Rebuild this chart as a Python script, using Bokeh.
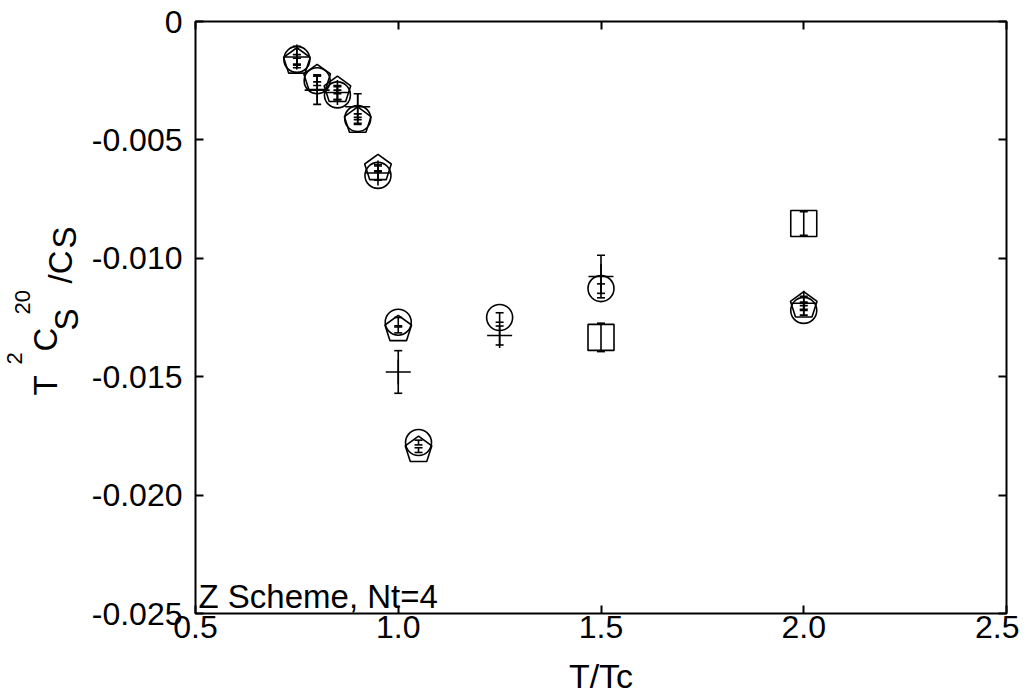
import numpy as np
from bokeh.plotting import figure
from bokeh.layouts import row
from bokeh.models import (ColumnDataSource, Whisker, TeeHead, FixedTicker, LinearAxis,
                          Label, Range1d, CustomJSTickFormatter)
from bokeh.core.properties import value, field
from bokeh.embed import file_html
from bokeh.resources import INLINE

# ---- data ----
T_circle = [0.75, 0.80, 0.85, 0.90, 0.95, 1.00, 1.05, 1.25, 1.50, 2.00]
C_circle = [-0.0016, -0.0025, -0.0031, -0.0041, -0.0065, -0.0127, -0.01778, -0.0125, -0.01128, -0.0122]
E_circle = [0.0002, 0.0002, 0.0002, 0.0002, 0.0002, 0.0002, 0.0001, 0.0002, 0.0002, 0.0002]

T_pent = [0.75, 0.80, 0.85, 0.90, 0.95, 1.00, 1.05, 2.00]
C_pent = [-0.0017, -0.0024, -0.0029, -0.0042, -0.0062, -0.0130, -0.0181, -0.0120]
E_pent = [0.00015, 0.00015, 0.00015, 0.00015, 0.00015, 0.00015, 0.0001, 0.00015]

T_plus = [0.75, 0.80, 0.85, 0.90, 0.95, 1.00, 1.25, 1.50, 2.00]
C_plus = [-0.0015, -0.0029, -0.0030, -0.0036, -0.0064, -0.0148, -0.01326, -0.01077, -0.0119]
E_plus = [0.00045, 0.0006, 0.0003, 0.00055, 0.0003, 0.0009, 0.0004, 0.0009, 0.0003]

T_square = [1.50, 2.00]
C_square = [-0.01334, -0.00853]
E_square = [0.0006, 0.0005]

x_ticks = [0.5, 1.0, 1.5, 2.0, 2.5]
y_ticks = [0.0, -0.005, -0.010, -0.015, -0.020, -0.025]

FONT = "Liberation Sans"
TICK_FS = "32px"
LABEL_W = 88
TOP, BOTTOM = 21, 85

# ---- main plot ----
p = figure(width=1019 - LABEL_W, height=698, x_range=Range1d(0.5, 2.5), y_range=Range1d(-0.025, 0.0),
           output_backend="svg", toolbar_location=None,
           min_border_left=195 - LABEL_W, min_border_top=TOP, min_border_right=13,
           min_border_bottom=BOTTOM)
p.grid.visible = False
p.outline_line_color = "black"
p.outline_line_width = 2
p.background_fill_color = "white"
p.border_fill_color = "white"


def style_axis(ax, ticks, code):
    ax.ticker = FixedTicker(ticks=ticks)
    ax.formatter = CustomJSTickFormatter(code=code)
    ax.major_tick_in = 8
    ax.major_tick_out = 0
    ax.major_tick_line_color = "black"
    ax.major_tick_line_width = 2
    ax.minor_tick_line_color = None
    ax.axis_line_color = None
    ax.major_label_text_font = FONT
    ax.major_label_text_font_size = TICK_FS
    ax.major_label_text_color = "black"


xcode = "return tick.toFixed(1);"
ycode = "return Math.abs(tick) < 1e-12 ? '0' : tick.toFixed(3);"
blank = "return '';"
style_axis(p.xaxis[0], x_ticks, xcode)
style_axis(p.yaxis[0], y_ticks, ycode)
p.xaxis[0].major_label_standoff = 2
p.yaxis[0].major_label_standoff = 13
p.xaxis[0].axis_label = "T/Tc"
p.xaxis[0].axis_label_text_font = FONT
p.xaxis[0].axis_label_text_font_size = "34px"
p.xaxis[0].axis_label_text_font_style = "normal"
p.xaxis[0].axis_label_text_color = "black"
p.xaxis[0].axis_label_standoff = 16

top = LinearAxis()
style_axis(top, x_ticks, blank)
p.add_layout(top, "above")
right = LinearAxis()
style_axis(right, y_ticks, blank)
p.add_layout(right, "right")

LW = 1.6


def errorbars(xs, ys, es):
    src = ColumnDataSource(dict(x=xs, lo=[y - e for y, e in zip(ys, es)],
                                hi=[y + e for y, e in zip(ys, es)]))
    w = Whisker(source=src, base="x", lower="lo", upper="hi", dimension="height",
                line_color="black", line_width=LW,
                upper_head=TeeHead(size=8, line_color="black", line_width=LW),
                lower_head=TeeHead(size=8, line_color="black", line_width=LW))
    p.add_layout(w)


# circles
p.scatter(T_circle, C_circle, marker="circle", size=26, fill_color=None,
          line_color="black", line_width=LW)
errorbars(T_circle, C_circle, E_circle)

# pentagons
p.ngon(x=T_pent, y=C_pent, radius=14, radius_units="screen", n=5,
       fill_color=None, line_color="black", line_width=LW)
errorbars(T_pent, C_pent, E_pent)

# plus
p.scatter(T_plus, C_plus, marker="cross", size=25, line_color="black", line_width=LW)
errorbars(T_plus, C_plus, E_plus)

# squares
p.scatter(T_square, C_square, marker="square", size=26, fill_color=None,
          line_color="black", line_width=LW)
errorbars(T_square, C_square, E_square)

# annotation text inside the frame
p.add_layout(Label(x=3, y=17, x_units="screen", y_units="screen", text="Z Scheme, Nt=4",
                   text_font=FONT, text_font_size="33px", text_color="black",
                   text_baseline="alphabetic", text_align="left"))

# ---- y-axis label panel: T^2 C_S^20 / C_S ----
ylab_text = ["T", "2", "C", "S", "20", "/C", "S"]
ylab_size = ["33px", "22px", "33px", "33px", "22px", "33px", "33px"]
ylab_px = [45, 14, 45, 66, 22, 60, 64]         # baseline position (panel px)
ylab_py = [395, 364, 351, 330, 314, 283, 248]  # start of text (page px from top)

lab = figure(width=LABEL_W, height=698, x_range=Range1d(0, LABEL_W), y_range=Range1d(698 - BOTTOM, TOP),
             output_backend="svg", toolbar_location=None,
             min_border_left=0, min_border_right=0, min_border_top=TOP, min_border_bottom=BOTTOM,
             x_axis_location=None, y_axis_location=None)
lab.grid.visible = False
lab.outline_line_color = None
lab.background_fill_color = "white"
lab.border_fill_color = "white"
lab.text(x="x", y="y", text="t",
         source=ColumnDataSource(dict(x=ylab_px, y=ylab_py, t=ylab_text, fs=ylab_size)),
         angle=np.pi / 2, text_font=value(FONT), text_font_size=field("fs"), text_color="black",
         text_baseline="alphabetic", text_align="left")

layout = row(lab, p)
open("out.html", "w").write(file_html(layout, INLINE))
